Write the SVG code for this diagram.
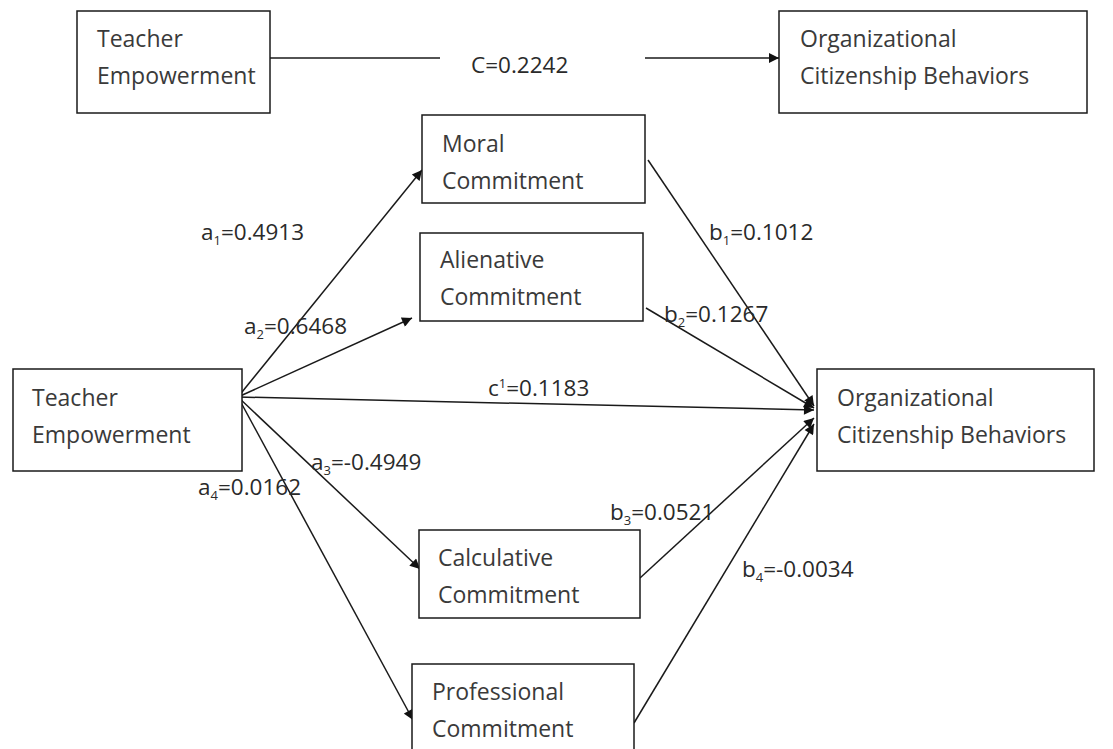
<svg xmlns="http://www.w3.org/2000/svg" width="1113" height="749" viewBox="0 0 1113 749">
<defs>
<style>
.box{fill:#fff;stroke:#1a1a1a;stroke-width:1.5}
.t{font-family:"Open Sans","Liberation Sans",sans-serif;font-size:23px;fill:#3a3a3a}
.lbl{font-family:"Open Sans","Liberation Sans",sans-serif;font-size:22.5px;fill:#2a2a2a}
.sub{font-size:13px}
.ln{stroke:#1a1a1a;stroke-width:1.5;fill:none}
.ar{stroke:#1a1a1a;stroke-width:1.5;fill:none;marker-end:url(#ah)}
</style>
<marker id="ah" viewBox="0 0 10 10" refX="10" refY="5" markerWidth="12" markerHeight="10" markerUnits="userSpaceOnUse" orient="auto"><path d="M0,0 L10,5 L0,10 Z" fill="#111"/></marker>
</defs>
<rect width="1113" height="749" fill="#fff"/>
<g id="connectors">
<line class="ln" x1="270" y1="58" x2="440" y2="58"/>
<line class="ar" x1="645" y1="58" x2="779" y2="58"/>
<line class="ar" x1="238" y1="397" x2="422" y2="170"/>
<line class="ar" x1="238" y1="397" x2="412" y2="318"/>
<line class="ar" x1="238" y1="397" x2="814" y2="410"/>
<line class="ar" x1="238" y1="397" x2="420" y2="569"/>
<line class="ar" x1="238" y1="397" x2="413" y2="720"/>
<line class="ar" x1="648" y1="160" x2="814" y2="406"/>
<line class="ar" x1="646" y1="308" x2="814" y2="408"/>
<line class="ar" x1="640" y1="578" x2="814" y2="418"/>
<line class="ar" x1="634" y1="723" x2="814" y2="424"/>
</g>
<g id="labels">
<text class="lbl" x="471" y="73">C=0.2242</text>
<text class="lbl" x="201" y="240">a<tspan class="sub" dy="5">1</tspan><tspan dy="-5">=0.4913</tspan></text>
<text class="lbl" x="244" y="334">a<tspan class="sub" dy="5">2</tspan><tspan dy="-5">=0.6468</tspan></text>
<text class="lbl" x="488" y="396">c<tspan class="sub" dy="-8">1</tspan><tspan dy="8">=0.1183</tspan></text>
<text class="lbl" x="311" y="470">a<tspan class="sub" dy="5">3</tspan><tspan dy="-5">=-0.4949</tspan></text>
<text class="lbl" x="198" y="495">a<tspan class="sub" dy="5">4</tspan><tspan dy="-5">=0.0162</tspan></text>
<text class="lbl" x="709" y="240">b<tspan class="sub" dy="5">1</tspan><tspan dy="-5">=0.1012</tspan></text>
<text class="lbl" x="664" y="322">b<tspan class="sub" dy="5">2</tspan><tspan dy="-5">=0.1267</tspan></text>
<text class="lbl" x="610" y="520">b<tspan class="sub" dy="5">3</tspan><tspan dy="-5">=0.0521</tspan></text>
<text class="lbl" x="742" y="577">b<tspan class="sub" dy="5">4</tspan><tspan dy="-5">=-0.0034</tspan></text>
</g>
<g id="te-top"><rect class="box" x="77" y="11" width="193" height="102"/><text class="t" x="97" y="47">Teacher</text><text class="t" x="97" y="84">Empowerment</text></g>
<g id="ocb-top"><rect class="box" x="779" y="11" width="308" height="102"/><text class="t" x="800" y="47">Organizational</text><text class="t" x="800" y="84">Citizenship Behaviors</text></g>
<g id="moral"><rect class="box" x="422" y="115" width="223" height="88"/><text class="t" x="442" y="152">Moral</text><text class="t" x="442" y="189">Commitment</text></g>
<g id="alienative"><rect class="box" x="420" y="233" width="223" height="88"/><text class="t" x="440" y="268">Alienative</text><text class="t" x="440" y="305">Commitment</text></g>
<g id="te"><rect class="box" x="13" y="369" width="229" height="102"/><text class="t" x="32" y="406">Teacher</text><text class="t" x="32" y="443">Empowerment</text></g>
<g id="ocb"><rect class="box" x="817" y="369" width="277" height="102"/><text class="t" x="837" y="406">Organizational</text><text class="t" x="837" y="443">Citizenship Behaviors</text></g>
<g id="calculative"><rect class="box" x="419" y="530" width="221" height="88"/><text class="t" x="438" y="566">Calculative</text><text class="t" x="438" y="603">Commitment</text></g>
<g id="professional"><rect class="box" x="412" y="664" width="222" height="100"/><text class="t" x="432" y="700">Professional</text><text class="t" x="432" y="737">Commitment</text></g>
</svg>
